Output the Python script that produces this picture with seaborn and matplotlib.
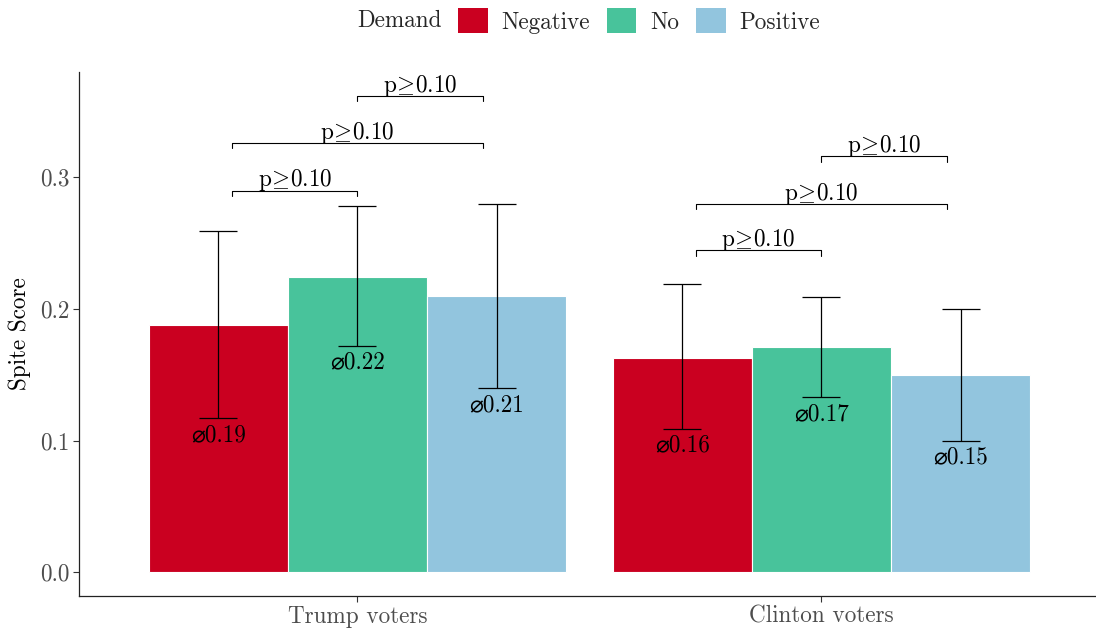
import matplotlib
matplotlib.use("Agg")
import matplotlib.pyplot as plt
import seaborn as sns
import pandas as pd
import numpy as np
from matplotlib.patches import Patch

# --- data -------------------------------------------------------------
groups = ["Trump voters", "Clinton voters"]
demand = ["Negative", "No", "Positive"]
mean_trump = [0.188, 0.224, 0.210]
mean_clinton = [0.163, 0.171, 0.150]
lower_trump = [0.117, 0.172, 0.140]
upper_trump = [0.259, 0.278, 0.280]
lower_clinton = [0.109, 0.133, 0.100]
upper_clinton = [0.219, 0.209, 0.200]
# pairwise comparisons: (first level, second level, bracket height, label)
tests_trump = [("Negative", "No", 0.290, "p$\\!\\geq\\!$0.10"),
               ("Negative", "Positive", 0.326, "p$\\!\\geq\\!$0.10"),
               ("No", "Positive", 0.362, "p$\\!\\geq\\!$0.10")]
tests_clinton = [("Negative", "No", 0.2445, "p$\\!\\geq\\!$0.10"),
                 ("Negative", "Positive", 0.280, "p$\\!\\geq\\!$0.10"),
                 ("No", "Positive", 0.316, "p$\\!\\geq\\!$0.10")]
yticks = [0.0, 0.1, 0.2, 0.3]
palette = {"Negative": "#CA0020", "No": "#48C39B", "Positive": "#92C5DE"}

df = pd.DataFrame({
    "group": np.repeat(groups, len(demand)),
    "Demand": demand * len(groups),
    "score": mean_trump + mean_clinton,
    "lo": lower_trump + lower_clinton,
    "hi": upper_trump + upper_clinton,
})

# --- style ------------------------------------------------------------
sns.set_theme(style="ticks")
plt.rcParams["font.family"] = ["cmr10", "DejaVu Sans"]
plt.rcParams["mathtext.fontset"] = "cm"
plt.rcParams["axes.formatter.use_mathtext"] = True
FS = 16.7

W, H, DPI = 1096, 630, 100
fig = plt.figure(figsize=(W / DPI, H / DPI), dpi=DPI)
ax = fig.add_axes([79 / W, (H - 596) / H, (W - 79) / W, (596 - 72) / H])

sns.barplot(data=df, x="group", y="score", hue="Demand", order=groups,
            hue_order=demand, palette=palette, width=0.9, errorbar=None,
            edgecolor="white", linewidth=0.8, saturation=1, ax=ax,
            legend=False)

bar_w = 0.9 / len(demand)
offsets = {d: (i - (len(demand) - 1) / 2) * bar_w for i, d in enumerate(demand)}

# error bars and mean labels
for gi, g in enumerate(groups):
    sub = df[df["group"] == g]
    for _, row in sub.iterrows():
        x = gi + offsets[row["Demand"]]
        ax.errorbar(x, row["score"],
                    yerr=[[row["score"] - row["lo"]], [row["hi"] - row["score"]]],
                    fmt="none", ecolor="black", elinewidth=0.9, capsize=14,
                    capthick=0.9, zorder=4)
        ax.annotate(f"\u23000.{int(round(row['score'] * 100)):02d}",
                    (x, row["lo"]), xytext=(0, -16.5), textcoords="offset points",
                    ha="center", va="baseline", fontsize=FS, color="black",
                    zorder=5)

# significance brackets, drawn slightly inside the outer bar centres
inset = 0.27
def bracket_end(gi, level):
    off = offsets[level]
    return gi + np.sign(off) * inset

tick_h = 0.004
for gi, tests in enumerate([tests_trump, tests_clinton]):
    for a, b, yb, lab in tests:
        xa, xb = bracket_end(gi, a), bracket_end(gi, b)
        ax.plot([xa, xa, xb, xb], [yb - tick_h, yb, yb, yb - tick_h],
                color="black", lw=0.8, zorder=4)
        ax.annotate(lab, ((xa + xb) / 2, yb), xytext=(0, 3),
                    textcoords="offset points", ha="center", va="baseline",
                    fontsize=FS, color="black")

# axes
ax.set_xlim(-0.6, 1.592)
ax.set_ylim(-0.0181, 0.3801)
ax.set_yticks(yticks)
ax.set_yticklabels([f"{t:.1f}" for t in yticks])
ax.set_xlabel("")
ax.set_ylabel("Spite Score", fontsize=FS, color="black", labelpad=6)
ax.tick_params(axis="both", labelsize=FS, labelcolor="#4D4D4D",
               color="#333333", length=4, width=0.8, pad=3)
for s in ["top", "right"]:
    ax.spines[s].set_visible(False)
for s in ["left", "bottom"]:
    ax.spines[s].set_color("#222222")
    ax.spines[s].set_linewidth(0.9)

# legend across the top
fig.text(357 / W, 1 - 21 / H, "Demand", fontsize=FS, ha="left", va="center")
handles = [Patch(facecolor=palette[d], edgecolor="none") for d in demand]
fig.legend(handles, demand, loc="center left",
           bbox_to_anchor=(458 / W, 1 - 21 / H), ncol=3, frameon=False,
           fontsize=FS, handlelength=1.29, handleheight=1.29,
           handletextpad=0.58, columnspacing=0.72, borderpad=0,
           borderaxespad=0)

fig.savefig("out.png", dpi=DPI)
